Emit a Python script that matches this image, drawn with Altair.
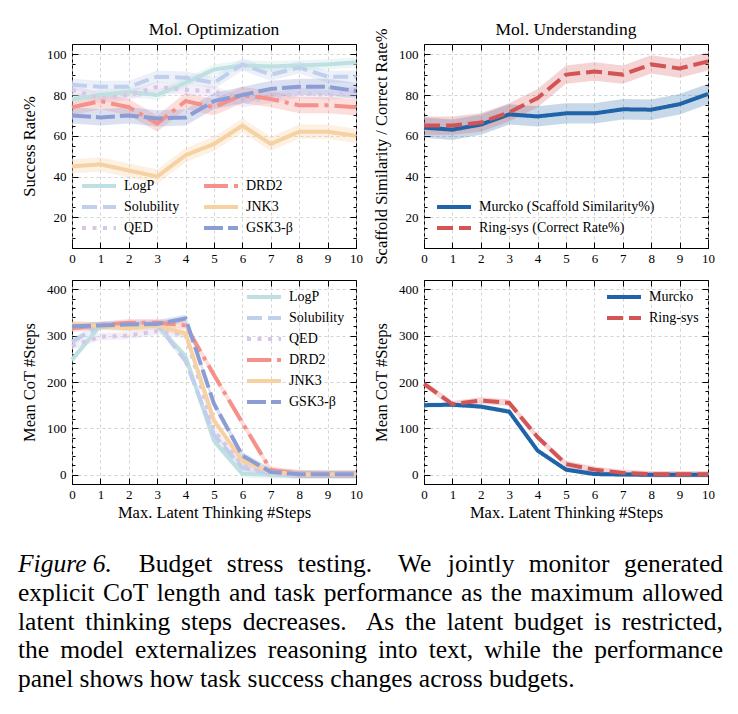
import altair as alt
import pandas as pd

# ---------------------------------------------------------------- data
steps = list(range(11))

opt_series = ["LogP", "Solubility", "QED", "DRD2", "JNK3", "GSK3-β"]
opt_colors = ["#bfe0e1", "#c0cfec", "#d7c6e6", "#f4918a", "#f6d1a1", "#8b9dd4"]
opt_dashes = [[1, 0], [15, 6], [4, 6.5], [24, 6, 4, 6], [1, 0], [19, 5]]

# success rate (%) per max latent thinking steps 0..10
logp_sr = [78, 80, 81.5, 80, 86, 92.5, 94.5, 94, 94.5, 95, 96]
sol_sr = [85, 84, 84, 89, 88.5, 86, 95, 90, 93.5, 89, 89]
qed_sr = [82.5, 78.5, 80, 84, 82.5, 82, 76.5, 78.5, 81, 80, 81.5]
drd2_sr = [74, 77, 74, 66, 77, 74, 80, 78, 75, 75, 74]
jnk3_sr = [45, 46, 43, 40, 50.5, 56, 65, 56, 62, 62, 60]
gsk3_sr = [70, 69, 70, 68.5, 69, 77, 80, 83, 84, 84, 82]
opt_sr_spread = [2.5, 3, 2.5, 4, 3.5, 4]

# mean explicit CoT steps
logp_cot = [248, 322, 320, 322, 255, 73, 2, 0, 0, 0, 0]
sol_cot = [287, 322, 318, 325, 245, 85, 15, 2, 0, 0, 0]
qed_cot = [278, 298, 300, 310, 302, 95, 20, 3, 0, 0, 0]
drd2_cot = [316, 322, 328, 328, 322, 215, 112, 10, 2, 1, 1]
jnk3_cot = [325, 320, 316, 322, 305, 117, 30, 6, 1, 1, 1]
gsk3_cot = [320, 322, 324, 325, 337, 153, 41, 6, 1, 1, 1]
opt_cot_spread = [8, 8, 8, 8, 8, 8]

und_series = ["Murcko (Scaffold Similarity%)", "Ring-sys (Correct Rate%)"]
und_short = ["Murcko", "Ring-sys"]
und_colors = ["#1f63a8", "#d35454"]
und_dashes = [[1, 0], [16, 6]]

murcko_sr = [64, 63, 65.5, 70.5, 69.5, 71, 71, 73, 72.8, 75.5, 80.5]
ring_sr = [65, 65, 66.5, 71.5, 78.5, 90, 91.5, 90, 95, 93, 96.5]
und_sr_spread = [5, 4.5]

murcko_cot = [150, 151, 147, 136, 52, 11, 1.5, 0.5, 0, 0, 0]
ring_cot = [196, 152, 160, 155, 81, 23, 11, 4, 1, 1, 1]
und_cot_spread = [5, 7]

x_ticks = steps
sr_ticks = [20, 40, 60, 80, 100]
sr_minor = list(range(5, 106, 5))
cot_ticks = [0, 100, 200, 300, 400]
cot_minor = list(range(-20, 421, 20))

caption_lead = "Figure 6."
caption_lines = [
    "Budget stress testing. We jointly monitor generated",
    "explicit CoT length and task performance as the maximum allowed",
    "latent thinking steps decreases. As the latent budget is restricted,",
    "the model externalizes reasoning into text, while the performance",
    "panel shows how task success changes across budgets.",
]

FONT = "Liberation Serif"
PANEL_W = 284
PANEL_H = 204
# long horizontal legend stroke; the nominal symbol box stays 10 px tall
LEGEND_STROKE = "M-3.4,0H3.4"
LEGEND_OVERHANG = 12


def long_table(names, series, spreads):
    rows = []
    for name, vals, sp in zip(names, series, spreads):
        for s, v in zip(steps, vals):
            rows.append({"step": s, "series": name, "value": v,
                         "lo": v - sp, "hi": v + sp})
    return pd.DataFrame(rows)


def tick_axis(orient, values, size, labels=False, grid=False, title=None,
              pad=0, title_pad=7):
    # negative tick length draws the ticks inward, into the plot frame
    kw = dict(orient=orient, values=values, tickSize={"expr": str(-size)},
              ticks=True, labels=labels, grid=grid, domain=False, title=title)
    if labels:
        kw["labelPadding"] = pad
    if title:
        kw["titlePadding"] = title_pad
    if grid:
        kw.update(gridColor="#c8c8c8", gridDash=[3, 3], gridWidth=0.8)
    return alt.Axis(**kw)


def panel(df, order, colors, dashes, band_opacity, ydomain, ymajor, yminor,
          ytitle, xtitle, legend, title=None, title_dy=0):
    xs = alt.Scale(domain=[0, 10], nice=False, zero=False)
    ys = alt.Scale(domain=ydomain, nice=False, zero=False)
    cs = alt.Scale(domain=order, range=colors)
    # same mapping listed in reverse, so the band scale keeps its own legend
    fs = alt.Scale(domain=order[::-1], range=colors[::-1])
    ds = alt.Scale(domain=order, range=dashes)
    base = alt.Chart(df)

    band = base.mark_area(opacity=band_opacity).encode(
        x=alt.X("step:Q", scale=xs,
                axis=tick_axis("bottom", x_ticks, 6, labels=True, grid=True,
                               title=xtitle, pad=10, title_pad=3)),
        y=alt.Y("lo:Q", scale=ys,
                axis=tick_axis("left", ymajor, 6, labels=True, grid=True,
                               title=ytitle, pad=12, title_pad=9)),
        y2="hi:Q",
        fill=alt.Fill("series:N", scale=fs, legend=None),
    )
    line = base.mark_line(strokeWidth=4, strokeCap="butt").encode(
        x=alt.X("step:Q", scale=xs, axis=None),
        y=alt.Y("value:Q", scale=ys, axis=None),
        color=alt.Color("series:N", scale=cs, legend=legend),
        strokeDash=alt.StrokeDash("series:N", scale=ds, legend=legend),
    )
    mirror = base.mark_point(opacity=0).encode(
        x=alt.X("step:Q", scale=xs, axis=tick_axis("top", x_ticks, 6)),
        y=alt.Y("value:Q", scale=ys, axis=tick_axis("right", ymajor, 6)),
    )
    minor_left = base.mark_point(opacity=0).encode(
        x=alt.X("step:Q", scale=xs, axis=None),
        y=alt.Y("value:Q", scale=ys, axis=tick_axis("left", yminor, 3)),
    )
    minor_right = base.mark_point(opacity=0).encode(
        x=alt.X("step:Q", scale=xs, axis=None),
        y=alt.Y("value:Q", scale=ys, axis=tick_axis("right", yminor, 3)),
    )
    props = dict(width=PANEL_W, height=PANEL_H)
    if title:
        props["title"] = alt.TitleParams(title, frame="group", offset=5,
                                         dy=title_dy, fontSize=17.5,
                                         fontWeight="normal", font=FONT,
                                         color="black")
    return (alt.layer(band, line, mirror, minor_left, minor_right)
            .resolve_axis(x="independent", y="independent")
            .properties(**props))


def legend_at(x, y, columns=1):
    # x is where the first stroke starts inside the plot
    return alt.Legend(orient="none", legendX=x + LEGEND_OVERHANG, legendY=y,
                      columns=columns, title=None, symbolType=LEGEND_STROKE)


# ---------------------------------------------------------------- panels
opt_sr_df = long_table(opt_series,
                       [logp_sr, sol_sr, qed_sr, drd2_sr, jnk3_sr, gsk3_sr],
                       opt_sr_spread)
opt_cot_df = long_table(opt_series,
                        [logp_cot, sol_cot, qed_cot, drd2_cot, jnk3_cot,
                         gsk3_cot], opt_cot_spread)
und_sr_df = long_table(und_series, [murcko_sr, ring_sr], und_sr_spread)
und_cot_df = long_table(und_short, [murcko_cot, ring_cot], und_cot_spread)

top_left = panel(opt_sr_df, opt_series, opt_colors, opt_dashes, 0.3,
                 [5, 105], sr_ticks, sr_minor, "Success Rate%", None,
                 legend_at(8, 135, columns=2), title="Mol. Optimization")
top_right = panel(und_sr_df, und_series, und_colors, und_dashes, 0.25,
                  [5, 105], sr_ticks, sr_minor,
                  "Scaffold Similarity / Correct Rate%", None,
                  legend_at(11, 156), title="Mol. Understanding", title_dy=16)
bottom_left = panel(opt_cot_df, opt_series, opt_colors, opt_dashes, 0.3,
                    [-20, 420], cot_ticks, cot_minor, "Mean CoT #Steps",
                    "Max. Latent Thinking #Steps", legend_at(173, 10))
bottom_right = panel(und_cot_df, und_short, und_colors, und_dashes, 0.25,
                     [-20, 420], cot_ticks, cot_minor, "Mean CoT #Steps",
                     "Max. Latent Thinking #Steps", legend_at(181, 10))

# ---------------------------------------------------------------- caption
# Times-compatible advance widths (per 1000 em) for justified setting
ROMAN = dict(zip("abcdefghijklmnopqrstuvwxyz",
                 [444, 500, 444, 500, 444, 333, 500, 500, 278, 278, 500, 278,
                  778, 500, 500, 500, 500, 333, 389, 278, 500, 500, 722, 500,
                  500, 444]))
ROMAN.update({"A": 722, "B": 667, "C": 667, "F": 556, "T": 611, "W": 944,
              ".": 250, ",": 250, " ": 250, "6": 500})
ITALIC = {"F": 611, "i": 278, "g": 500, "u": 500, "r": 389, "e": 444,
          "6": 500, ".": 250, " ": 250}

CAP_SIZE = 25.5
CAP_LEFT, CAP_RIGHT = 17, 722
CAP_ORIGIN_X, CAP_ORIGIN_Y = 71, 516
CAP_FIRST_BASELINE, CAP_LEADING = 572, 28.75


def text_width(s, table):
    return sum(table.get(ch, 500) for ch in s) / 1000 * CAP_SIZE


words = []
for i, line in enumerate(caption_lines):
    tokens = [(w, False) for w in line.split(" ")]
    if i == 0:
        tokens = [(caption_lead, True)] + tokens
    widths = [text_width(w, ITALIC if it else ROMAN) for w, it in tokens]
    weights = [1.8 if w.endswith(".") else 1.0 for w, _ in tokens[:-1]]
    last = i == len(caption_lines) - 1
    if last:
        unit = ROMAN[" "] / 1000 * CAP_SIZE
    else:
        unit = (CAP_RIGHT - CAP_LEFT - sum(widths)) / sum(weights)
    x = CAP_LEFT
    y = CAP_FIRST_BASELINE + i * CAP_LEADING
    for k, ((w, it), wd) in enumerate(zip(tokens, widths)):
        words.append({"word": w, "italic": it, "px": x - CAP_ORIGIN_X,
                      "py": y - CAP_ORIGIN_Y})
        if k < len(weights):
            x += wd + unit * (weights[k] if not last else 1.0)

words_df = pd.DataFrame(words)


def caption_layer(df, style):
    return alt.Chart(df).mark_text(
        align="left", baseline="alphabetic", font=FONT, fontSize=CAP_SIZE,
        fontStyle=style, color="black",
    ).encode(
        x=alt.X("px:Q", scale=None, axis=None),
        y=alt.Y("py:Q", scale=None, axis=None),
        text="word:N",
    )


caption = alt.layer(
    caption_layer(words_df[~words_df["italic"]], "normal"),
    caption_layer(words_df[words_df["italic"]], "italic"),
).properties(width=PANEL_W, height=150,
             view=alt.ViewBackground(stroke="transparent"))

chart = alt.concat(
    top_left, top_right, bottom_left, bottom_right, caption,
    columns=2, spacing={"row": 32, "column": 68}, bounds="flush",
).resolve_scale(
    color="independent", strokeDash="independent", fill="independent",
).properties(
    padding={"left": 17, "top": 20, "right": 5, "bottom": 5},
    background="white",
).configure_view(
    stroke="black", strokeWidth=1,
).configure_axis(
    labelFont=FONT, labelFontSize=13, labelColor="black",
    titleFont=FONT, titleFontSize=16.5, titleFontWeight="normal",
    titleColor="black", tickColor="black", tickWidth=1,
    labelFlush=False, labelOverlap=False,
).configure_legend(
    labelFont=FONT, labelFontSize=14, labelColor="black",
    labelOffset=LEGEND_OVERHANG + 6, labelLimit=320,
    symbolSize=100, symbolStrokeWidth=4, rowPadding=5, columnPadding=16,
    padding=0,
)

chart.save("out.html", embed_options={"renderer": "svg", "actions": False})
